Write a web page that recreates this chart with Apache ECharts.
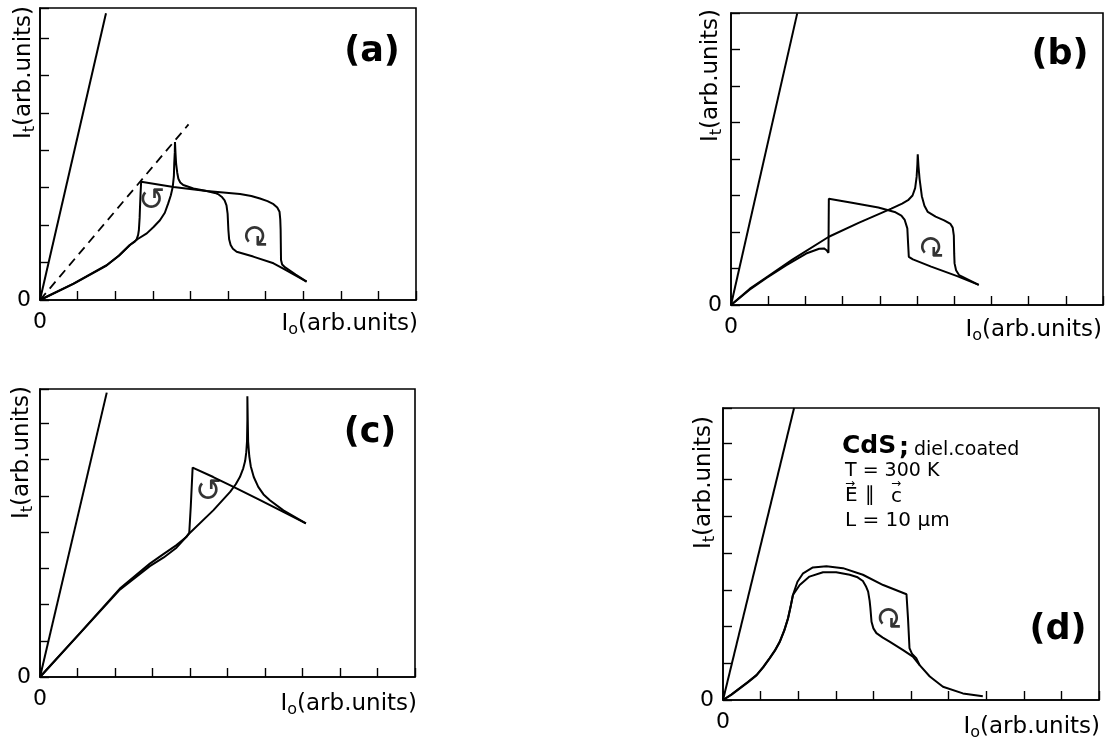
<!DOCTYPE html>
<html>
<head>
<meta charset="utf-8">
<script src="https://cdn.jsdelivr.net/npm/echarts@6/dist/echarts.min.js"></script>
<style>html,body{margin:0;padding:0;background:#fff}#c{width:1106px;height:740px}</style>
</head>
<body>
<div id="c"></div>
<script>
// ---------- data ----------
const panelLabels = ['(a)', '(b)', '(c)', '(d)'];
const tickLabels = ['0'];
const xAxisName = 'I|o|(arb.units)';
const yAxisName = 'I|t|(arb.units)';
const xMax = [10, 10, 10, 10];
const yMax = [7.8, 8, 7.95, 7.95];

// panel (a)
const refA = [[0, 0], [1.755, 7.66]];
const dashA = [[0, 0], [3.95, 4.69]];
const sweepA1 = [[0,0],[0.89,0.44],[1.77,0.93],[2.10,1.19],[2.39,1.47],[2.60,1.63],[2.84,1.78],[3.02,1.95],[3.19,2.13],[3.32,2.33],[3.41,2.58],[3.48,2.80],[3.53,3.02],[3.56,3.30],[3.57,3.64],[3.585,3.95],[3.59,4.22],[3.605,3.90],[3.62,3.64],[3.65,3.40],[3.68,3.24],[3.73,3.14],[3.81,3.07],[4.08,2.98],[4.43,2.91],[4.65,2.86],[4.75,2.82],[4.83,2.76],[4.91,2.66],[4.96,2.53],[4.99,2.30],[5.01,1.87],[5.03,1.62],[5.07,1.47],[5.13,1.37],[5.23,1.29],[5.67,1.16],[6.21,0.98],[6.47,0.84],[7.09,0.49]];
const sweepA2 = [[0,0],[0.89,0.43],[1.77,0.92],[2.10,1.18],[2.39,1.47],[2.52,1.56],[2.57,1.62],[2.61,1.74],[2.63,1.87],[2.65,2.20],[2.66,2.49],[2.675,2.85],[2.69,3.16],[3.55,3.02],[4.43,2.91],[5.32,2.83],[5.62,2.78],[5.85,2.71],[6.05,2.64],[6.21,2.56],[6.31,2.47],[6.37,2.36],[6.39,2.15],[6.40,1.87],[6.41,1.07],[6.44,0.95],[6.52,0.87],[6.80,0.68],[7.09,0.49]];
const loopArrowsA = [[2.97, 2.62], [5.72, 1.82]];
const loopTurnA = ['ccw', 'cw'];

// panel (b)
const refB = [[0, 0], [1.78, 7.99]];
const sweepB1 = [[0,0],[0.50,0.42],[0.955,0.74],[1.49,1.09],[2.02,1.41],[2.37,1.54],[2.50,1.55],[2.57,1.50],[2.62,1.43],[2.63,2.91],[3.25,2.80],[3.96,2.67],[4.40,2.55],[4.58,2.45],[4.67,2.33],[4.74,2.10],[4.76,1.70],[4.78,1.32],[4.89,1.25],[5.38,1.05],[6.08,0.79],[6.66,0.55]];
const sweepB2 = [[0,0],[0.50,0.44],[0.955,0.76],[1.66,1.25],[2.63,1.87],[3.43,2.25],[4.31,2.64],[4.60,2.78],[4.76,2.87],[4.88,3.00],[4.95,3.20],[4.99,3.51],[5.01,3.85],[5.02,4.13],[5.04,3.80],[5.07,3.45],[5.13,2.98],[5.20,2.72],[5.29,2.55],[5.50,2.42],[5.73,2.32],[5.90,2.22],[5.96,2.12],[5.99,1.90],[6.00,1.40],[6.01,1.14],[6.05,0.95],[6.13,0.82],[6.66,0.55]];
const loopArrowsB = [[5.38, 1.70]];
const loopTurnB = ['cw'];

// panel (c)
const refC = [[0, 0], [1.78, 7.85]];
const sweepC1 = [[0,0],[1.07,1.22],[2.13,2.44],[2.93,3.13],[3.30,3.40],[3.64,3.64],[3.91,3.87],[3.98,3.98],[4.02,4.70],[4.07,5.78],[4.62,5.52],[5.16,5.25],[5.87,4.88],[6.58,4.51],[7.09,4.24]];
const sweepC2 = [[0,0],[1.07,1.21],[2.13,2.41],[2.93,3.06],[3.30,3.30],[3.64,3.57],[3.98,3.96],[4.62,4.60],[5.07,5.11],[5.22,5.32],[5.33,5.52],[5.42,5.76],[5.47,5.96],[5.50,6.20],[5.52,6.50],[5.53,7.10],[5.53,7.75],[5.54,7.10],[5.55,6.50],[5.58,6.10],[5.62,5.82],[5.70,5.52],[5.82,5.25],[5.96,5.04],[6.13,4.88],[6.49,4.60],[7.09,4.24]];
const loopArrowsC = [[4.49, 5.08]];
const loopTurnC = ['ccw'];

// panel (d)
const refD = [[0, 0], [1.89, 7.95]];
const sweepD1 = [[0,0],[0.22,0.15],[0.44,0.32],[0.66,0.49],[0.89,0.68],[1.07,0.90],[1.24,1.14],[1.38,1.35],[1.51,1.59],[1.63,1.90],[1.73,2.23],[1.80,2.55],[1.86,2.86],[2.04,3.13],[2.30,3.36],[2.66,3.48],[3.01,3.48],[3.37,3.41],[3.58,3.34],[3.72,3.24],[3.80,3.10],[3.86,2.95],[3.90,2.70],[3.92,2.50],[3.95,2.13],[4.00,1.95],[4.08,1.82],[4.25,1.70],[4.43,1.59],[4.79,1.36],[5.05,1.18],[5.23,0.95],[5.50,0.64],[5.85,0.36],[6.38,0.18],[6.91,0.10]];
const sweepD2 = [[0,0],[0.22,0.14],[0.44,0.31],[0.66,0.48],[0.89,0.67],[1.07,0.89],[1.24,1.13],[1.38,1.34],[1.51,1.58],[1.63,1.89],[1.73,2.22],[1.80,2.55],[1.86,2.86],[1.98,3.22],[2.13,3.45],[2.39,3.61],[2.75,3.64],[3.19,3.59],[3.72,3.41],[4.26,3.13],[4.88,2.88],[4.92,2.23],[4.96,1.41],[5.03,1.25],[5.14,1.14],[5.23,0.95]];
const loopArrowsD = [[4.41, 2.33]];
const loopTurnD = ['cw'];

// ---------- layout / style ----------
const FONT = 'DejaVu Sans';
const grids = [
  {left: 40, top: 8, width: 376, height: 292},
  {left: 731, top: 13, width: 377, height: 292},
  {left: 40, top: 389, width: 375, height: 288},
  {left: 723, top: 408, width: 376, height: 292}
];
const panels = [
  {ref: refA, sweeps: [sweepA1, sweepA2], dash: dashA, arrows: loopArrowsA, turns: loopTurnA},
  {ref: refB, sweeps: [sweepB1, sweepB2], arrows: loopArrowsB, turns: loopTurnB},
  {ref: refC, sweeps: [sweepC1, sweepC2], arrows: loopArrowsC, turns: loopTurnC},
  {ref: refD, sweeps: [sweepD1, sweepD2], arrows: loopArrowsD, turns: loopTurnD}
];

const lineStyle = {color: '#000', width: 2};
const xAxes = [], yAxes = [], series = [];
grids.forEach((g, i) => {
  Object.assign(g, {show: true, borderColor: '#000', borderWidth: 1.6, backgroundColor: 'transparent', containLabel: false});
  const common = {
    type: 'value', gridIndex: i, min: 0, interval: 1,
    splitLine: {show: false},
    axisLine: {show: true, lineStyle: {color: '#000', width: 1.6}},
    axisTick: {show: true, inside: true, length: 9, lineStyle: {color: '#000', width: 1.4}},
    axisLabel: {
      color: '#000', fontSize: 22, fontFamily: FONT,
      formatter: v => (v === 0 ? tickLabels[0] : '')
    }
  };
  xAxes.push(Object.assign({}, common, {max: xMax[i], axisLabel: Object.assign({}, common.axisLabel, {margin: 11})}));
  yAxes.push(Object.assign({}, common, {max: yMax[i], axisLabel: Object.assign({}, common.axisLabel, {margin: 9})}));

  const p = panels[i];
  const base = {type: 'line', xAxisIndex: i, yAxisIndex: i, showSymbol: false, symbol: 'none', silent: true, animation: false};
  series.push(Object.assign({}, base, {data: p.ref, lineStyle}));
  p.sweeps.forEach(s => series.push(Object.assign({}, base, {data: s, lineStyle})));
  if (p.dash) series.push(Object.assign({}, base, {data: p.dash, lineStyle: {color: '#000', width: 1.8, type: [9, 6]}}));
  series.push({
    type: 'scatter', xAxisIndex: i, yAxisIndex: i, silent: true, animation: false,
    symbolSize: 1, itemStyle: {color: 'rgba(0,0,0,0)'},
    data: p.arrows.map((a, k) => ({
      value: a,
      label: {
        show: true, position: 'inside', color: '#000', fontSize: 32, fontFamily: FONT,
        formatter: p.turns[k] === 'cw' ? '\u21BB' : '\u21BA',
        rotate: p.turns[k] === 'cw' ? 180 : 0
      }
    }))
  });
});

// axis names and annotations
const richName = () => ({
  m: {fontSize: 23, fontFamily: FONT, color: '#000', lineHeight: 28, verticalAlign: 'middle'},
  s: {fontSize: 16, fontFamily: FONT, color: '#000', lineHeight: 28, verticalAlign: 'bottom'}
});
function nameText(spec) {
  const parts = spec.split('|');
  return '{m|' + parts[0] + '}{s|' + parts[1] + '}{m|' + parts[2] + '}';
}
const graphic = [];
const xNamePos = [[418, 324], [1102, 330], [417, 704], [1100, 727]];
const yNamePos = [[24, 6], [711, 9], [22, 386], [704, 416]];
for (let i = 0; i < 4; i++) {
  graphic.push({type: 'text', x: xNamePos[i][0], y: xNamePos[i][1], silent: true,
    style: {text: nameText(xAxisName), rich: richName(), align: 'right', verticalAlign: 'middle'}});
  graphic.push({type: 'text', x: yNamePos[i][0], y: yNamePos[i][1], rotation: Math.PI / 2, silent: true,
    style: {text: nameText(yAxisName), rich: richName(), align: 'right', verticalAlign: 'middle'}});
}
const labelPos = [[372, 52], [1060, 55], [370, 433], [1058, 630]];
panelLabels.forEach((t, i) => graphic.push({type: 'text', x: labelPos[i][0], y: labelPos[i][1], silent: true,
  style: {text: t, font: 'bold 35px "' + FONT + '"', fill: '#000', align: 'center', verticalAlign: 'middle'}}));

const txt = (text, x, y, size, bold) => ({type: 'text', x, y, silent: true,
  style: {text, font: (bold ? 'bold ' : '') + size + 'px "' + FONT + '"', fill: '#000', align: 'left', verticalAlign: 'middle'}});
graphic.push(txt('CdS', 842, 446, 25, true));
graphic.push(txt(';', 899, 448, 25, true));
graphic.push(txt('diel.coated', 914, 450, 19, false));
graphic.push(txt('T = 300 K', 845, 471, 19, false));
graphic.push(txt('E', 845, 496, 20, false));
graphic.push(txt('\u2225', 865, 496, 20, false));
graphic.push(txt('c', 891, 497, 20, false));
graphic.push(txt('\u2192', 845, 484, 12, false));
graphic.push(txt('\u2192', 891, 484, 12, false));
graphic.push(txt('L = 10 \u03BCm', 845, 521, 20, false));

const chart = echarts.init(document.getElementById('c'), null, {renderer: 'canvas'});
chart.setOption({
  animation: false,
  backgroundColor: '#fff',
  grid: grids,
  xAxis: xAxes,
  yAxis: yAxes,
  series,
  graphic
});
</script>
</body>
</html>
